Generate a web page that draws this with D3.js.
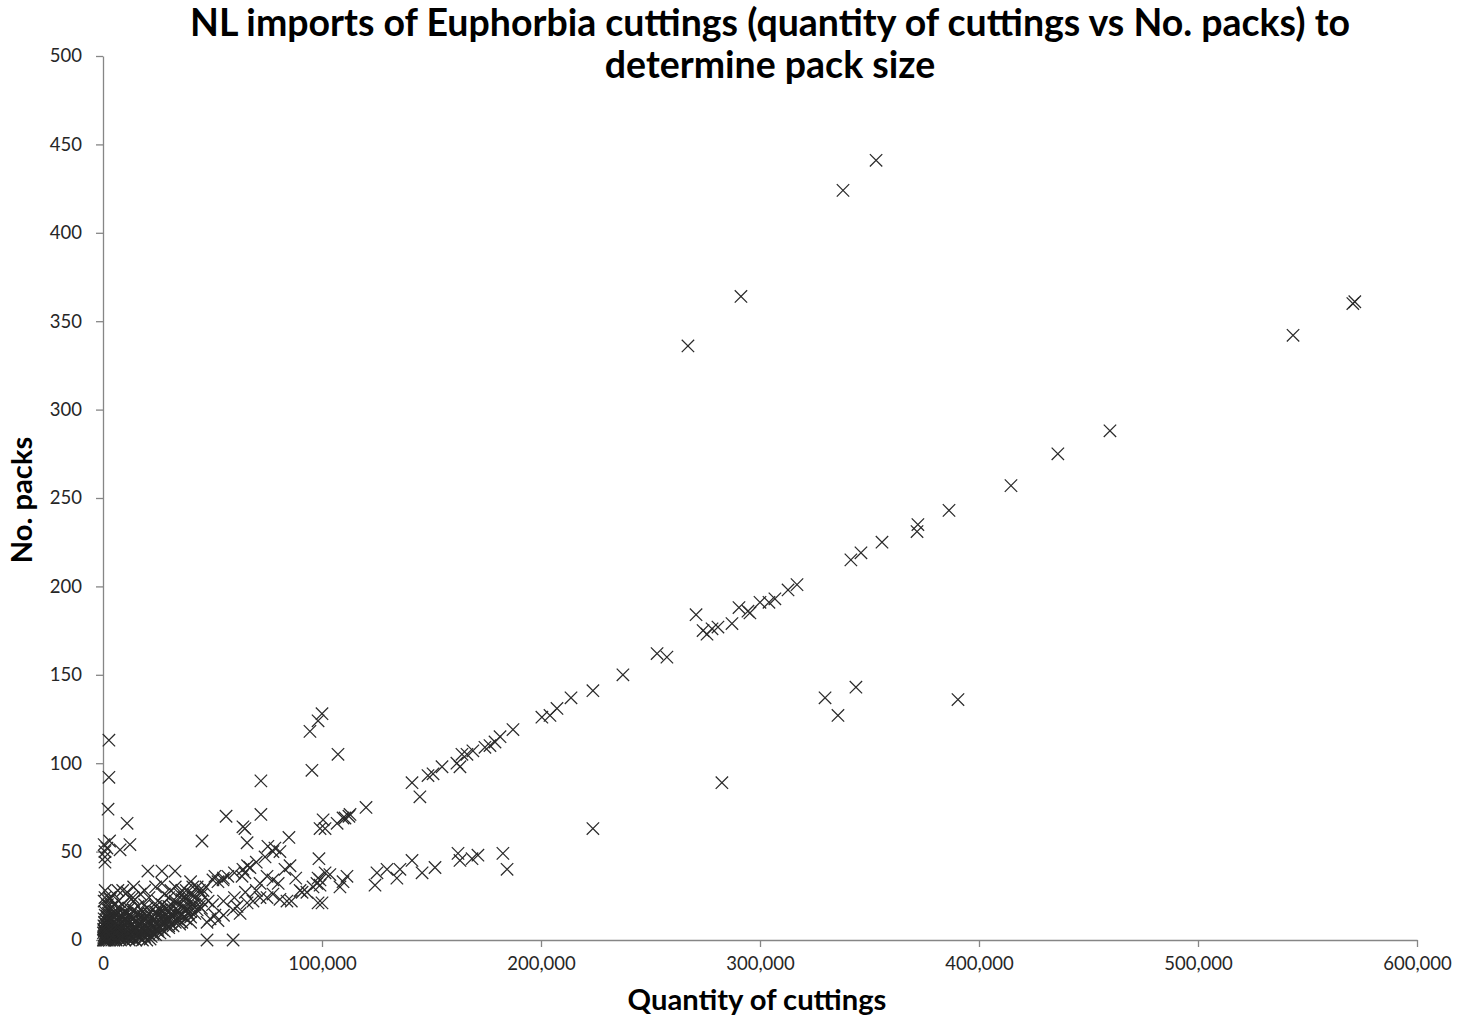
<!DOCTYPE html>
<html>
<head>
<meta charset="utf-8">
<script src="https://cdn.jsdelivr.net/npm/d3@7"></script>
<style>
  html, body { margin: 0; padding: 0; background: #fff; }
  svg { display: block; }
  text { font-family: Lato, "Open Sans", sans-serif; }
  .heading { font-weight: bold; }
</style>
</head>
<body>
<svg id="chart" width="1470" height="1021"></svg>
<script>
// Each pair is [quantity of cuttings, number of packs]

// Packs holding roughly 800 cuttings
const smallPackPoints = [
  [353000, 441], [337900, 424], [291300, 364], [267100, 336],
  [100000, 128], [98200, 124], [94500, 118], [107300, 105], [95400, 96],
  [72100, 90], [72100, 71], [56200, 70], [63900, 64], [64800, 63],
  [45200, 56], [65800, 55], [84900, 58]
];

// Packs holding roughly 1,600 cuttings (main trend)
const mainTrendPoints = [
  [571600, 361], [570700, 360], [543400, 342], [459800, 288], [436000, 275],
  [414600, 257], [386300, 243], [372100, 235], [371700, 231], [355700, 225],
  [346100, 219], [341500, 215], [316900, 201], [312800, 198], [306800, 193],
  [304100, 191], [300000, 191], [294500, 186], [295400, 185], [290400, 188],
  [287200, 179], [280800, 177], [278100, 176], [274000, 175], [275800, 173],
  [270800, 184], [257500, 160], [253000, 162], [237400, 150], [223700, 141],
  [213700, 137], [207300, 131], [204100, 127], [200400, 126], [187200, 119],
  [181300, 115], [179000, 112], [176700, 110], [174400, 109], [168900, 107],
  [166200, 105], [163900, 105], [161600, 100], [163000, 98], [154800, 98],
  [150700, 94], [148400, 93], [141100, 89], [144700, 81], [120100, 75],
  [112300, 70], [110500, 69], [112800, 71], [106900, 66], [109600, 69],
  [100500, 68], [99100, 63], [101400, 63], [85400, 42], [83100, 40],
  [78500, 52], [77600, 50], [80800, 50], [75300, 53], [74000, 47],
  [70000, 44], [66000, 42], [67100, 41], [63900, 40], [64800, 38],
  [63500, 36], [60000, 38], [57000, 36], [55000, 35], [54800, 34],
  [52500, 33], [51100, 36], [50200, 34], [47000, 30], [45700, 28],
  [45200, 26], [44000, 28], [41000, 26], [38000, 24], [36000, 23],
  [33000, 21], [30000, 19], [27000, 17], [24000, 15], [20000, 13]
];

// Packs holding roughly 4,000 cuttings
const largePackPoints = [
  [223700, 63], [184500, 40], [182600, 49], [171200, 48], [168500, 46],
  [162100, 49], [163000, 45], [151600, 41], [145700, 38], [141100, 45],
  [135600, 40], [134200, 35], [129700, 40], [125100, 38], [124200, 31],
  [111400, 36], [109600, 33], [108200, 30], [103600, 37], [98200, 35],
  [99100, 31], [95900, 30], [93100, 27], [90900, 27], [100000, 21],
  [98600, 46], [101400, 38], [99100, 34], [97700, 32], [98200, 21],
  [90000, 28], [86000, 22], [84000, 22], [80800, 23], [77600, 26],
  [74900, 24], [71700, 24], [74900, 36], [77600, 34], [71700, 32],
  [68500, 22], [65800, 21], [61200, 19], [59400, 17], [62600, 15],
  [55000, 14], [51100, 14], [48900, 12], [52500, 11], [47500, 10],
  [40000, 10], [35000, 9], [30000, 8], [25000, 6], [20000, 5]
];

// Points between the bands in the 20,000 - 90,000 range
const midBandPoints = [
  [30000, 12], [40000, 16], [50000, 20], [60000, 24], [70000, 28],
  [80000, 32], [88000, 35], [35000, 14], [45000, 18], [55000, 22],
  [65000, 27], [42000, 20], [38000, 18], [33000, 15], [48000, 22],
  [28000, 13], [36000, 28], [40000, 33], [43000, 30]
];

// Isolated consignments
const outlierPoints = [
  [282600, 89], [329700, 137], [335600, 127], [343800, 143], [390400, 136],
  [47500, 0], [59400, 0]
];

// Small consignments close to the packs axis
const nearAxisPoints = [
  [2700, 113], [2700, 92], [2300, 74], [11000, 66], [12300, 54],
  [500, 54], [1800, 52], [900, 47], [900, 50], [7800, 51], [3000, 56],
  [900, 44], [20500, 39], [26900, 39], [32900, 39], [26900, 32],
  [6800, 28], [11000, 27], [13700, 24], [900, 24], [3200, 23], [5500, 20]
];

// Dense group of very small consignments
const denseClusterPoints = [
  [200, 0], [500, 0], [1000, 0], [1500, 0], [2000, 0], [3000, 0], [4000, 0], [5000, 0], [6000, 0], [8000, 0], [10000, 0], [12000, 0], [15000, 0], [18000, 0], [20000, 0],
  [300, 1], [800, 1], [1200, 1], [2500, 1], [3500, 1], [4500, 1], [7000, 1], [9000, 1], [11000, 1], [14000, 1], [17000, 1],
  [400, 2], [1000, 2], [2000, 2], [3000, 2], [5000, 2], [6500, 2], [8000, 2], [10000, 2], [13000, 2], [16000, 2], [19000, 2], [22000, 2],
  [600, 3], [1500, 3], [2800, 3], [4000, 3], [5500, 3], [7500, 3], [9500, 3], [12000, 3], [15000, 3], [18000, 3], [21000, 3], [24000, 3],
  [200, 4], [1100, 4], [2200, 4], [3800, 4], [6000, 4], [8500, 4], [11000, 4], [14000, 4], [17000, 4], [20000, 4], [23000, 4], [26000, 4],
  [500, 5], [1800, 5], [3200, 5], [4800, 5], [7000, 5], [9000, 5], [12500, 5], [16000, 5], [19000, 5], [22000, 5], [25000, 5], [28000, 5],
  [300, 6], [2500, 6], [4200, 6], [6500, 6], [10000, 6], [13500, 6], [17500, 6], [21000, 6], [24000, 6], [27000, 6],
  [900, 7], [3000, 7], [5500, 7], [8000, 7], [11500, 7], [15000, 7], [18500, 7], [23000, 7], [26000, 7], [30000, 7],
  [400, 8], [2000, 8], [4500, 8], [7200, 8], [10500, 8], [14500, 8], [20000, 8], [25000, 8], [29000, 8], [32000, 8],
  [1200, 9], [3600, 9], [6000, 9], [9800, 9], [13000, 9], [16500, 9], [22000, 9], [27000, 9], [31000, 9],
  [700, 10], [2600, 10], [5000, 10], [8800, 10], [12000, 10], [18000, 10], [24000, 10], [28000, 10], [33000, 10], [36000, 10],
  [1500, 11], [4000, 11], [7000, 11], [11000, 11], [15500, 11], [21000, 11], [26000, 11], [30000, 11], [35000, 11],
  [500, 12], [3000, 12], [6200, 12], [10000, 12], [14000, 12], [19000, 12], [23500, 12], [29000, 12], [34000, 12], [38000, 12],
  [2000, 13], [5000, 13], [9000, 13], [13000, 13], [17000, 13], [22500, 13], [27500, 13], [32000, 13], [37000, 13], [40000, 13],
  [1000, 14], [4200, 14], [8000, 14], [12500, 14], [20000, 14], [25000, 14], [31000, 14], [36000, 14],
  [2500, 15], [6000, 15], [11000, 15], [16000, 15], [21000, 15], [28000, 15], [33000, 15], [39000, 15], [42000, 15],
  [800, 16], [5000, 16], [10000, 16], [18000, 16], [24000, 16], [30000, 16], [35000, 16],
  [3000, 17], [8500, 17], [14000, 17], [26000, 17], [34000, 17], [38000, 17], [43000, 17],
  [1500, 18], [6500, 18], [12000, 18], [20000, 18], [29000, 18], [37000, 18],
  [4000, 19], [16000, 19], [24000, 19], [32000, 19], [40000, 19], [44000, 19],
  [2000, 20], [9000, 20], [19000, 20], [27000, 20], [35000, 20], [41000, 20],
  [500, 22], [7000, 22], [14000, 22], [25000, 22], [33000, 22], [39000, 22], [45000, 22],
  [3000, 24], [12000, 24], [21000, 24], [30000, 24], [37000, 24], [42000, 24],
  [5000, 26], [17000, 26], [28000, 26], [35000, 26], [40000, 26],
  [1000, 28], [9000, 28], [19000, 28], [31000, 28], [38000, 28],
  [14000, 30], [24000, 30], [33000, 30], [41000, 30],
  // second layer over the darkest part of the group
  [700, 0.5], [2300, 0.5], [3700, 1.5], [5800, 0.5], [7600, 1.5], [9600, 0.5], [11600, 1.5], [13600, 0.5], [16600, 1.5], [21500, 0.5],
  [1300, 2.5], [2900, 3.5], [4600, 2.5], [6900, 3.5], [8900, 2.5], [10800, 3.5], [12800, 4.5], [15800, 3.5], [18800, 4.5], [22800, 3.5],
  [800, 5.5], [2700, 6.5], [4400, 5.5], [6200, 7.5], [8300, 6.5], [10300, 5.5], [12200, 7.5], [14800, 5.5], [16800, 8.5], [19800, 6.5],
  [1600, 8.5], [3300, 10.5], [5300, 8.5], [7800, 9.5], [9300, 11.5], [11300, 9.5], [13300, 11.5], [17300, 10.5], [20500, 9.5], [23200, 11.5],
  [2200, 12.5], [4700, 13.5], [7300, 12.5], [9700, 14.5], [12100, 13.5], [15300, 14.5], [18300, 13.5], [24500, 15.5], [27200, 12.5], [30500, 14.5]
];

const allPoints = [
  ...denseClusterPoints, ...nearAxisPoints, ...midBandPoints,
  ...largePackPoints, ...mainTrendPoints, ...smallPackPoints, ...outlierPoints
];

const xTicks = [0, 100000, 200000, 300000, 400000, 500000, 600000];
const yTicks = [0, 50, 100, 150, 200, 250, 300, 350, 400, 450, 500];

const titleLines = [
  "NL imports of Euphorbia cuttings (quantity of cuttings vs No. packs) to",
  "determine pack size"
];
const xTitle = "Quantity of cuttings";
const yTitle = "No. packs";

const svg = d3.select("#chart");
const plot = { left: 103, right: 1417, top: 56, bottom: 940 };

const x = d3.scaleLinear().domain([0, 600000]).range([plot.left, plot.right]);
const y = d3.scaleLinear().domain([0, 500]).range([plot.bottom, plot.top]);

const axisColor = "#868686";
const labelColor = "#262626";

// X axis
const xAxis = svg.append("g")
  .attr("transform", `translate(0,${plot.bottom})`)
  .call(d3.axisBottom(x).tickValues(xTicks).tickFormat(d3.format(",")).tickSize(7).tickSizeOuter(0));
// Y axis
const yAxis = svg.append("g")
  .attr("transform", `translate(${plot.left},0)`)
  .call(d3.axisLeft(y).tickValues(yTicks).tickSize(7).tickSizeOuter(0));

[xAxis, yAxis].forEach(g => {
  g.select(".domain").attr("stroke", axisColor).attr("stroke-width", 1.3);
  g.selectAll(".tick line").attr("stroke", axisColor).attr("stroke-width", 1.3);
  g.selectAll(".tick text")
    .attr("fill", labelColor)
    .style("font-family", "Lato, 'Open Sans', sans-serif")
    .style("font-size", "18.5px");
});
xAxis.selectAll(".tick text").attr("dy", "0.71em").attr("y", 17);
yAxis.selectAll(".tick text").attr("x", -21);

// Markers: x-shaped crosses
const half = 6.2;
const crossPath = `M${-half},${-half}L${half},${half}M${-half},${half}L${half},${-half}`;
svg.append("g")
  .selectAll("path")
  .data(allPoints)
  .join("path")
  .attr("d", crossPath)
  .attr("transform", d => `translate(${x(d[0])},${y(d[1])})`)
  .attr("fill", "none")
  .attr("stroke", "#2a2a2a")
  .attr("stroke-width", 1.25);

// Scale a text's font size so it spans the given width
function fitText(sel, targetWidth, startSize) {
  sel.style("font-size", startSize + "px");
  const w = sel.node().getComputedTextLength();
  const size = startSize * targetWidth / w;
  sel.style("font-size", size + "px");
  return size;
}

// Title: two centred bold lines
const t1 = svg.append("text")
  .attr("class", "heading")
  .attr("x", 770).attr("y", 36)
  .attr("text-anchor", "middle")
  .attr("fill", "#000")
  .text(titleLines[0]);
const titleSize = fitText(t1, 1160, 30);
svg.append("text")
  .attr("class", "heading")
  .attr("x", 770).attr("y", 78)
  .attr("text-anchor", "middle")
  .attr("fill", "#000")
  .style("font-size", titleSize + "px")
  .text(titleLines[1]);

// Axis titles
const xt = svg.append("text")
  .attr("class", "heading")
  .attr("x", 757).attr("y", 1010)
  .attr("text-anchor", "middle")
  .attr("fill", "#000")
  .text(xTitle);
const axisTitleSize = fitText(xt, 259, 22);

svg.append("text")
  .attr("class", "heading")
  .attr("transform", "translate(32,500) rotate(-90)")
  .attr("text-anchor", "middle")
  .attr("fill", "#000")
  .style("font-size", axisTitleSize + "px")
  .text(yTitle);
</script>
</body>
</html>
